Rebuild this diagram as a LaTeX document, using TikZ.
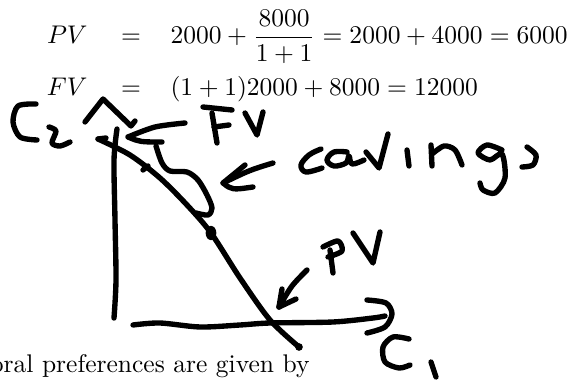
\documentclass[tikz,border=0pt]{standalone}
\begin{document}
\begin{tikzpicture}[x=0.392pt,y=-0.392pt,
  ink/.style={line width=2.1pt,line cap=round,line join=round}]
\useasboundingbox (0,0) rectangle (583,381);
% typeset equations
\node[anchor=base east,inner sep=0] (pvl) at (88,44) {$PV$};
\node[anchor=base,inner sep=0] (eqa) at (131,44) {$=$};
\node[anchor=base west,inner sep=0] (pvr) at (170,44) {$\displaystyle 2000+\frac{8000}{1+1}=2000+4000=6000$};
\node[anchor=base east,inner sep=0] (fvl) at (88,96) {$FV$};
\node[anchor=base,inner sep=0] (eqb) at (131,96) {$=$};
\node[anchor=base west,inner sep=0] (fvr) at (170,96) {$(1+1)2000+8000=12000$};
\node[anchor=base east,inner sep=0] (txt) at (310,373) {poral preferences are given by};
% C2
\draw[ink] plot[smooth] coordinates {(36,104) (18,106) (13,122) (20,137) (37,140)};
\draw[ink] plot[smooth,tension=0.5] coordinates {(49,127) (56,131) (52,143) (60,146) (70,142)};
% y-axis arrowhead (caret) and axis
\draw[ink] (85,122) -- (103,99) -- (131,126) -- (135,121);
\draw[ink] plot[smooth] coordinates {(117,129) (114,160) (115,220) (116,280) (114,318)};
% FV arrow
\draw[ink] plot[smooth] coordinates {(185,123) (155,127) (128,137)};
\draw[ink] (128,137) .. controls (140,142) .. (162,142);
% budget line
\draw[ink] plot[smooth] coordinates {(98,139) (130,155) (160,178) (187,205) (211,233) (240,278) (270,320) (299,347)};
\draw[ink] (98,139) -- (106,138);
\draw[ink] (143,170) -- (148,166);
\fill (211,233) ellipse [x radius=2.1pt, y radius=2.8pt];
\fill (299,347) circle (1.5pt);
% x-axis
\draw[ink] plot[smooth] coordinates {(133,325) (160,323) (200,327) (240,325) (270,323) (333,322) (373,318) (385,316)};
\draw[ink] plot[smooth] coordinates {(367,300) (386,303) (392,314) (385,327) (367,333)};
% C1
\draw[ink] plot[smooth] coordinates {(409,339) (393,337) (383,347) (385,362) (399,368) (410,365)};
\draw[ink] (431,362) -- (436,377);
% PV arrow and label
\draw[ink] plot[smooth] coordinates {(307,270) (292,286) (279,307)};
\draw[ink] (279,307) -- (282,289);
\draw[ink] (279,307) -- (296,299);
\draw[ink] (330,250) -- (333,273);
\draw[ink] plot[smooth] coordinates {(323,247) (338,241) (342,251) (328,257)};
\draw[ink] (353,233) -- (373,263) -- (380,232);
% FV label
\draw[ink] (203,107) -- (232,110);
\draw[ink] (212,113) -- (217,143);
\draw[ink] (214,127) -- (229,125);
\draw[ink] (245,113) -- (257,135) -- (263,112);
% savings arrow and bracket
\draw[ink] (273,163) .. controls (250,170) .. (223,183);
\draw[ink] (245,165) -- (223,183) .. controls (232,190) .. (253,187);
\draw[ink] plot[smooth] coordinates {(156,146) (162,163) (170,171) (187,172) (198,180) (207,195) (212,208) (208,215) (196,213)};
% savings word
\draw[ink] plot[smooth,tension=0.6] coordinates {(321,149) (309,155) (301,165) (306,172) (322,168)};
\draw[ink] plot[smooth,tension=0.6] coordinates {(347,152) (334,152) (327,160) (334,166) (346,163) (349,156) (352,164) (364,160)};
\draw[ink] (366,152) -- (379,168) -- (388,134);
\draw[ink] (407,150) -- (409,166);
\draw[ink] (431,145) -- (432,166);
\draw[ink] plot[smooth] coordinates {(432,154) (444,146) (455,150) (462,165)};
\draw[ink] plot[smooth] coordinates {(502,150) (487,145) (478,153) (490,160) (502,154) (505,178) (495,193) (483,190) (480,183)};
\draw[ink] plot[smooth] coordinates {(527,147) (536,155) (533,165) (522,167)};
\end{tikzpicture}
\end{document}
